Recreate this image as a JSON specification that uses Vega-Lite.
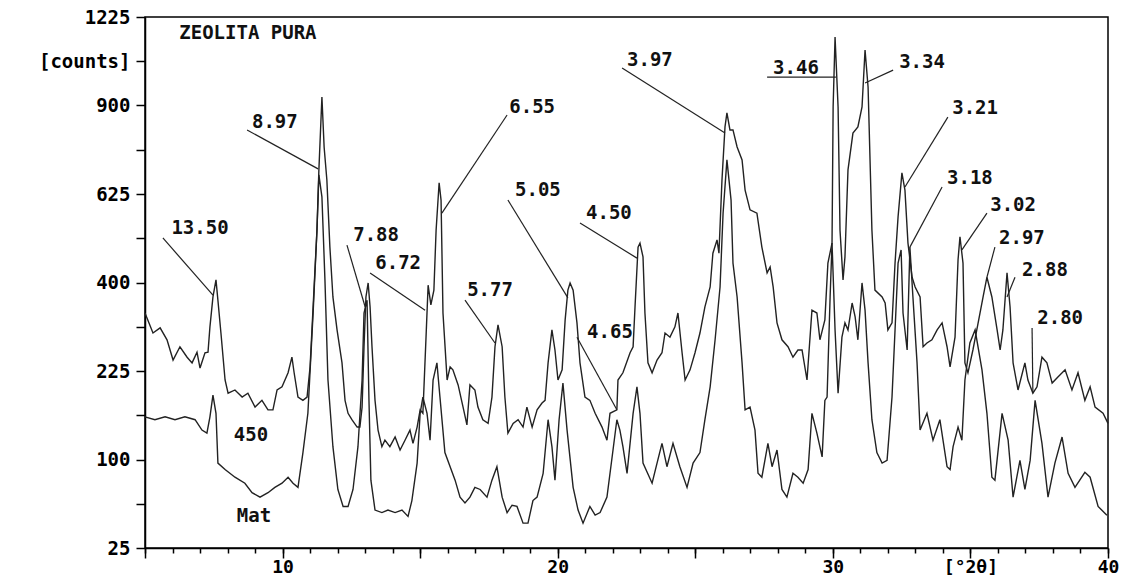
{
  "$schema": "https://vega.github.io/schema/vega-lite/v6.json",
  "width": 963,
  "height": 531,
  "autosize": {"type": "none"},
  "padding": {"left": 145, "top": 17, "right": 17, "bottom": 29},
  "background": "white",
  "config": {
    "view": {"stroke": "black", "strokeWidth": 1.5},
    "axis": {"domainColor": "black", "domainWidth": 1.5, "tickColor": "black", "tickWidth": 1.5, "labelFont": "DejaVu Sans Mono", "labelFontWeight": "bold", "labelFontSize": 19, "labelColor": "black", "grid": false, "labelFlush": false, "labelOverlap": false}
  },
  "datasets": {
    "spec": [
      {"s":"a","t":5.00,"c":334},{"s":"a","t":5.29,"c":294},{"s":"a","t":5.55,"c":304},{"s":"a","t":5.80,"c":281},{"s":"a","t":6.02,"c":244},{"s":"a","t":6.27,"c":268},{"s":"a","t":6.53,"c":249},{"s":"a","t":6.71,"c":239},{"s":"a","t":6.89,"c":258},{"s":"a","t":7.00,"c":230},{"s":"a","t":7.18,"c":257},{"s":"a","t":7.29,"c":258},{"s":"a","t":7.36,"c":306},{"s":"a","t":7.47,"c":368},{"s":"a","t":7.58,"c":406},{"s":"a","t":7.65,"c":361},{"s":"a","t":7.76,"c":294},{"s":"a","t":7.91,"c":210},{"s":"a","t":8.02,"c":189},{"s":"a","t":8.27,"c":194},{"s":"a","t":8.53,"c":183},{"s":"a","t":8.74,"c":189},{"s":"a","t":9.00,"c":168},{"s":"a","t":9.25,"c":178},{"s":"a","t":9.47,"c":164},{"s":"a","t":9.65,"c":164},{"s":"a","t":9.80,"c":194},{"s":"a","t":9.98,"c":199},{"s":"a","t":10.20,"c":222},{"s":"a","t":10.34,"c":249},{"s":"a","t":10.42,"c":222},{"s":"a","t":10.56,"c":183},{"s":"a","t":10.74,"c":178},{"s":"a","t":10.89,"c":183},{"s":"a","t":11.00,"c":232},{"s":"a","t":11.11,"c":347},{"s":"a","t":11.25,"c":527},{"s":"a","t":11.32,"c":695},{"s":"a","t":11.43,"c":929},{"s":"a","t":11.51,"c":765},{"s":"a","t":11.61,"c":665},{"s":"a","t":11.72,"c":484},{"s":"a","t":11.83,"c":368},{"s":"a","t":11.98,"c":300},{"s":"a","t":12.16,"c":239},{"s":"a","t":12.27,"c":178},{"s":"a","t":12.38,"c":159},{"s":"a","t":12.52,"c":150},{"s":"a","t":12.71,"c":140},{"s":"a","t":12.81,"c":140},{"s":"a","t":12.89,"c":168},{"s":"a","t":12.96,"c":268},{"s":"a","t":13.03,"c":368},{"s":"a","t":13.11,"c":399},{"s":"a","t":13.18,"c":347},{"s":"a","t":13.25,"c":268},{"s":"a","t":13.36,"c":178},{"s":"a","t":13.47,"c":136},{"s":"a","t":13.61,"c":115},{"s":"a","t":13.72,"c":123},{"s":"a","t":13.90,"c":115},{"s":"a","t":14.09,"c":127},{"s":"a","t":14.27,"c":111},{"s":"a","t":14.45,"c":123},{"s":"a","t":14.63,"c":136},{"s":"a","t":14.74,"c":119},{"s":"a","t":14.89,"c":140},{"s":"a","t":15.00,"c":164},{"s":"a","t":15.10,"c":159},{"s":"a","t":15.21,"c":281},{"s":"a","t":15.29,"c":394},{"s":"a","t":15.39,"c":351},{"s":"a","t":15.50,"c":383},{"s":"a","t":15.58,"c":527},{"s":"a","t":15.69,"c":657},{"s":"a","t":15.76,"c":608},{"s":"a","t":15.83,"c":334},{"s":"a","t":15.98,"c":210},{"s":"a","t":16.09,"c":232},{"s":"a","t":16.19,"c":227},{"s":"a","t":16.38,"c":202},{"s":"a","t":16.56,"c":168},{"s":"a","t":16.70,"c":143},{"s":"a","t":16.81,"c":202},{"s":"a","t":16.99,"c":194},{"s":"a","t":17.10,"c":168},{"s":"a","t":17.28,"c":150},{"s":"a","t":17.47,"c":145},{"s":"a","t":17.61,"c":183},{"s":"a","t":17.72,"c":268},{"s":"a","t":17.83,"c":310},{"s":"a","t":17.98,"c":268},{"s":"a","t":18.08,"c":183},{"s":"a","t":18.19,"c":132},{"s":"a","t":18.38,"c":145},{"s":"a","t":18.56,"c":150},{"s":"a","t":18.74,"c":140},{"s":"a","t":18.88,"c":168},{"s":"a","t":19.07,"c":140},{"s":"a","t":19.25,"c":164},{"s":"a","t":19.43,"c":174},{"s":"a","t":19.54,"c":178},{"s":"a","t":19.65,"c":239},{"s":"a","t":19.79,"c":300},{"s":"a","t":19.90,"c":262},{"s":"a","t":20.01,"c":210},{"s":"a","t":20.16,"c":227},{"s":"a","t":20.27,"c":320},{"s":"a","t":20.37,"c":383},{"s":"a","t":20.45,"c":399},{"s":"a","t":20.56,"c":383},{"s":"a","t":20.70,"c":314},{"s":"a","t":20.81,"c":239},{"s":"a","t":20.99,"c":183},{"s":"a","t":21.17,"c":178},{"s":"a","t":21.36,"c":159},{"s":"a","t":21.61,"c":140},{"s":"a","t":21.79,"c":123},{"s":"a","t":21.90,"c":159},{"s":"a","t":22.15,"c":164},{"s":"a","t":22.19,"c":210},{"s":"a","t":22.37,"c":222},{"s":"a","t":22.63,"c":257},{"s":"a","t":22.74,"c":268},{"s":"a","t":22.81,"c":347},{"s":"a","t":22.92,"c":484},{"s":"a","t":22.99,"c":494},{"s":"a","t":23.10,"c":460},{"s":"a","t":23.17,"c":334},{"s":"a","t":23.28,"c":239},{"s":"a","t":23.43,"c":222},{"s":"a","t":23.61,"c":244},{"s":"a","t":23.79,"c":257},{"s":"a","t":23.90,"c":294},{"s":"a","t":24.08,"c":286},{"s":"a","t":24.26,"c":306},{"s":"a","t":24.37,"c":334},{"s":"a","t":24.52,"c":257},{"s":"a","t":24.63,"c":210},{"s":"a","t":24.81,"c":227},{"s":"a","t":24.99,"c":257},{"s":"a","t":25.17,"c":294},{"s":"a","t":25.35,"c":347},{"s":"a","t":25.54,"c":390},{"s":"a","t":25.64,"c":469},{"s":"a","t":25.79,"c":502},{"s":"a","t":25.86,"c":469},{"s":"a","t":25.97,"c":665},{"s":"a","t":26.08,"c":829},{"s":"a","t":26.15,"c":875},{"s":"a","t":26.26,"c":819},{"s":"a","t":26.37,"c":819},{"s":"a","t":26.52,"c":765},{"s":"a","t":26.70,"c":725},{"s":"a","t":26.81,"c":636},{"s":"a","t":26.99,"c":581},{"s":"a","t":27.24,"c":572},{"s":"a","t":27.42,"c":484},{"s":"a","t":27.61,"c":422},{"s":"a","t":27.72,"c":436},{"s":"a","t":27.83,"c":390},{"s":"a","t":27.97,"c":314},{"s":"a","t":28.15,"c":281},{"s":"a","t":28.37,"c":268},{"s":"a","t":28.55,"c":249},{"s":"a","t":28.73,"c":262},{"s":"a","t":28.88,"c":262},{"s":"a","t":29.06,"c":210},{"s":"a","t":29.24,"c":340},{"s":"a","t":29.42,"c":334},{"s":"a","t":29.53,"c":281},{"s":"a","t":29.71,"c":320},{"s":"a","t":29.82,"c":445},{"s":"a","t":29.97,"c":494},{"s":"a","t":30.01,"c":895},{"s":"a","t":30.08,"c":1147},{"s":"a","t":30.19,"c":895},{"s":"a","t":30.26,"c":527},{"s":"a","t":30.37,"c":406},{"s":"a","t":30.44,"c":460},{"s":"a","t":30.55,"c":695},{"s":"a","t":30.73,"c":809},{"s":"a","t":30.91,"c":829},{"s":"a","t":31.06,"c":895},{"s":"a","t":31.17,"c":1098},{"s":"a","t":31.28,"c":964},{"s":"a","t":31.42,"c":527},{"s":"a","t":31.53,"c":383},{"s":"a","t":31.79,"c":368},{"s":"a","t":31.90,"c":355},{"s":"a","t":32.00,"c":300},{"s":"a","t":32.15,"c":314},{"s":"a","t":32.26,"c":445},{"s":"a","t":32.37,"c":562},{"s":"a","t":32.51,"c":686},{"s":"a","t":32.62,"c":636},{"s":"a","t":32.73,"c":494},{"s":"a","t":32.88,"c":412},{"s":"a","t":32.99,"c":390},{"s":"a","t":33.17,"c":368},{"s":"a","t":33.28,"c":268},{"s":"a","t":33.42,"c":275},{"s":"a","t":33.60,"c":281},{"s":"a","t":33.79,"c":300},{"s":"a","t":33.97,"c":314},{"s":"a","t":34.15,"c":268},{"s":"a","t":34.26,"c":232},{"s":"a","t":34.44,"c":286},{"s":"a","t":34.55,"c":453},{"s":"a","t":34.62,"c":510},{"s":"a","t":34.73,"c":445},{"s":"a","t":34.80,"c":239},{"s":"a","t":34.91,"c":222},{"s":"a","t":35.09,"c":262},{"s":"a","t":35.28,"c":314},{"s":"a","t":35.46,"c":368},{"s":"a","t":35.60,"c":412},{"s":"a","t":35.78,"c":368},{"s":"a","t":35.97,"c":300},{"s":"a","t":36.08,"c":262},{"s":"a","t":36.18,"c":300},{"s":"a","t":36.33,"c":422},{"s":"a","t":36.44,"c":347},{"s":"a","t":36.55,"c":239},{"s":"a","t":36.73,"c":194},{"s":"a","t":36.98,"c":239},{"s":"a","t":37.09,"c":210},{"s":"a","t":37.27,"c":189},{"s":"a","t":37.42,"c":199},{"s":"a","t":37.60,"c":249},{"s":"a","t":37.78,"c":239},{"s":"a","t":37.97,"c":205},{"s":"a","t":38.18,"c":215},{"s":"a","t":38.44,"c":227},{"s":"a","t":38.69,"c":194},{"s":"a","t":38.91,"c":222},{"s":"a","t":39.16,"c":178},{"s":"a","t":39.35,"c":199},{"s":"a","t":39.53,"c":168},{"s":"a","t":39.82,"c":159},{"s":"a","t":40.00,"c":145},
      {"s":"b","t":5.00,"c":154},{"s":"b","t":5.36,"c":150},{"s":"b","t":5.73,"c":154},{"s":"b","t":6.09,"c":150},{"s":"b","t":6.45,"c":154},{"s":"b","t":6.82,"c":150},{"s":"b","t":7.07,"c":136},{"s":"b","t":7.25,"c":132},{"s":"b","t":7.36,"c":154},{"s":"b","t":7.47,"c":186},{"s":"b","t":7.58,"c":159},{"s":"b","t":7.65,"c":96},{"s":"b","t":7.91,"c":89},{"s":"b","t":8.27,"c":81},{"s":"b","t":8.63,"c":75},{"s":"b","t":8.89,"c":66},{"s":"b","t":9.18,"c":62},{"s":"b","t":9.47,"c":66},{"s":"b","t":9.72,"c":71},{"s":"b","t":9.98,"c":75},{"s":"b","t":10.20,"c":81},{"s":"b","t":10.38,"c":75},{"s":"b","t":10.56,"c":71},{"s":"b","t":10.74,"c":108},{"s":"b","t":10.92,"c":159},{"s":"b","t":11.11,"c":334},{"s":"b","t":11.25,"c":527},{"s":"b","t":11.32,"c":680},{"s":"b","t":11.43,"c":617},{"s":"b","t":11.54,"c":406},{"s":"b","t":11.65,"c":210},{"s":"b","t":11.83,"c":115},{"s":"b","t":12.01,"c":69},{"s":"b","t":12.20,"c":54},{"s":"b","t":12.38,"c":54},{"s":"b","t":12.56,"c":69},{"s":"b","t":12.74,"c":115},{"s":"b","t":12.89,"c":210},{"s":"b","t":12.96,"c":334},{"s":"b","t":13.07,"c":361},{"s":"b","t":13.14,"c":178},{"s":"b","t":13.21,"c":78},{"s":"b","t":13.36,"c":51},{"s":"b","t":13.61,"c":49},{"s":"b","t":13.83,"c":51},{"s":"b","t":14.09,"c":49},{"s":"b","t":14.34,"c":51},{"s":"b","t":14.56,"c":46},{"s":"b","t":14.70,"c":59},{"s":"b","t":14.89,"c":96},{"s":"b","t":15.00,"c":159},{"s":"b","t":15.10,"c":183},{"s":"b","t":15.25,"c":159},{"s":"b","t":15.36,"c":123},{"s":"b","t":15.47,"c":210},{"s":"b","t":15.61,"c":239},{"s":"b","t":15.72,"c":183},{"s":"b","t":15.90,"c":108},{"s":"b","t":16.09,"c":92},{"s":"b","t":16.27,"c":78},{"s":"b","t":16.45,"c":62},{"s":"b","t":16.63,"c":57},{"s":"b","t":16.81,"c":62},{"s":"b","t":16.99,"c":71},{"s":"b","t":17.18,"c":69},{"s":"b","t":17.43,"c":62},{"s":"b","t":17.61,"c":78},{"s":"b","t":17.79,"c":92},{"s":"b","t":17.98,"c":62},{"s":"b","t":18.16,"c":49},{"s":"b","t":18.34,"c":55},{"s":"b","t":18.52,"c":54},{"s":"b","t":18.74,"c":41},{"s":"b","t":18.92,"c":41},{"s":"b","t":19.10,"c":59},{"s":"b","t":19.25,"c":62},{"s":"b","t":19.47,"c":85},{"s":"b","t":19.65,"c":150},{"s":"b","t":19.79,"c":115},{"s":"b","t":19.90,"c":78},{"s":"b","t":20.05,"c":150},{"s":"b","t":20.19,"c":205},{"s":"b","t":20.34,"c":136},{"s":"b","t":20.56,"c":71},{"s":"b","t":20.74,"c":51},{"s":"b","t":20.92,"c":41},{"s":"b","t":21.17,"c":54},{"s":"b","t":21.36,"c":47},{"s":"b","t":21.54,"c":49},{"s":"b","t":21.79,"c":62},{"s":"b","t":22.01,"c":111},{"s":"b","t":22.15,"c":150},{"s":"b","t":22.26,"c":136},{"s":"b","t":22.37,"c":115},{"s":"b","t":22.52,"c":85},{"s":"b","t":22.74,"c":159},{"s":"b","t":22.88,"c":199},{"s":"b","t":22.99,"c":159},{"s":"b","t":23.10,"c":96},{"s":"b","t":23.43,"c":75},{"s":"b","t":23.61,"c":96},{"s":"b","t":23.79,"c":119},{"s":"b","t":23.97,"c":92},{"s":"b","t":24.19,"c":119},{"s":"b","t":24.44,"c":92},{"s":"b","t":24.70,"c":71},{"s":"b","t":24.92,"c":96},{"s":"b","t":25.17,"c":108},{"s":"b","t":25.35,"c":150},{"s":"b","t":25.54,"c":199},{"s":"b","t":25.72,"c":281},{"s":"b","t":25.90,"c":390},{"s":"b","t":26.01,"c":572},{"s":"b","t":26.15,"c":725},{"s":"b","t":26.30,"c":608},{"s":"b","t":26.37,"c":445},{"s":"b","t":26.52,"c":368},{"s":"b","t":26.70,"c":239},{"s":"b","t":26.81,"c":164},{"s":"b","t":26.99,"c":168},{"s":"b","t":27.17,"c":136},{"s":"b","t":27.28,"c":85},{"s":"b","t":27.42,"c":81},{"s":"b","t":27.64,"c":119},{"s":"b","t":27.79,"c":92},{"s":"b","t":27.97,"c":111},{"s":"b","t":28.15,"c":69},{"s":"b","t":28.33,"c":62},{"s":"b","t":28.55,"c":85},{"s":"b","t":28.73,"c":81},{"s":"b","t":28.92,"c":75},{"s":"b","t":29.10,"c":89},{"s":"b","t":29.24,"c":159},{"s":"b","t":29.42,"c":132},{"s":"b","t":29.61,"c":103},{"s":"b","t":29.71,"c":178},{"s":"b","t":29.79,"c":183},{"s":"b","t":29.90,"c":368},{"s":"b","t":29.97,"c":494},{"s":"b","t":30.08,"c":300},{"s":"b","t":30.19,"c":189},{"s":"b","t":30.33,"c":286},{"s":"b","t":30.44,"c":314},{"s":"b","t":30.55,"c":300},{"s":"b","t":30.70,"c":355},{"s":"b","t":30.81,"c":326},{"s":"b","t":30.91,"c":281},{"s":"b","t":31.06,"c":399},{"s":"b","t":31.17,"c":340},{"s":"b","t":31.28,"c":239},{"s":"b","t":31.42,"c":150},{"s":"b","t":31.60,"c":108},{"s":"b","t":31.79,"c":96},{"s":"b","t":31.97,"c":99},{"s":"b","t":32.15,"c":183},{"s":"b","t":32.26,"c":300},{"s":"b","t":32.37,"c":445},{"s":"b","t":32.48,"c":477},{"s":"b","t":32.55,"c":334},{"s":"b","t":32.70,"c":262},{"s":"b","t":32.80,"c":484},{"s":"b","t":32.91,"c":368},{"s":"b","t":33.06,"c":239},{"s":"b","t":33.17,"c":136},{"s":"b","t":33.42,"c":159},{"s":"b","t":33.64,"c":123},{"s":"b","t":33.89,"c":150},{"s":"b","t":34.15,"c":92},{"s":"b","t":34.26,"c":89},{"s":"b","t":34.37,"c":115},{"s":"b","t":34.55,"c":140},{"s":"b","t":34.69,"c":123},{"s":"b","t":34.80,"c":210},{"s":"b","t":34.98,"c":275},{"s":"b","t":35.17,"c":300},{"s":"b","t":35.42,"c":227},{"s":"b","t":35.60,"c":159},{"s":"b","t":35.78,"c":81},{"s":"b","t":35.89,"c":78},{"s":"b","t":36.15,"c":159},{"s":"b","t":36.37,"c":123},{"s":"b","t":36.55,"c":62},{"s":"b","t":36.80,"c":99},{"s":"b","t":36.98,"c":69},{"s":"b","t":37.17,"c":99},{"s":"b","t":37.35,"c":178},{"s":"b","t":37.60,"c":119},{"s":"b","t":37.82,"c":62},{"s":"b","t":38.07,"c":96},{"s":"b","t":38.33,"c":127},{"s":"b","t":38.55,"c":85},{"s":"b","t":38.80,"c":71},{"s":"b","t":39.16,"c":86},{"s":"b","t":39.35,"c":81},{"s":"b","t":39.64,"c":54},{"s":"b","t":39.96,"c":47}
    ],
    "lead": [
      {"x1":5.65,"y1":507,"x2":7.47,"y2":372},
      {"x1":8.71,"y1":819,"x2":11.29,"y2":698},
      {"x1":12.34,"y1":489,"x2":13.00,"y2":347},
      {"x1":13.18,"y1":422,"x2":15.18,"y2":340},
      {"x1":18.16,"y1":868,"x2":15.79,"y2":572},
      {"x1":16.63,"y1":361,"x2":17.72,"y2":275},
      {"x1":18.19,"y1":608,"x2":20.37,"y2":366},
      {"x1":20.81,"y1":546,"x2":22.88,"y2":457},
      {"x1":20.70,"y1":286,"x2":22.15,"y2":164},
      {"x1":22.34,"y1":1032,"x2":26.08,"y2":809},
      {"x1":27.61,"y1":999,"x2":30.11,"y2":999},
      {"x1":32.19,"y1":1024,"x2":31.17,"y2":978},
      {"x1":34.18,"y1":861,"x2":32.62,"y2":645},
      {"x1":33.97,"y1":645,"x2":32.80,"y2":484},
      {"x1":35.60,"y1":572,"x2":34.69,"y2":477},
      {"x1":35.89,"y1":484,"x2":35.60,"y2":412},
      {"x1":36.62,"y1":412,"x2":36.33,"y2":368},
      {"x1":37.24,"y1":304,"x2":37.27,"y2":189}
    ],
    "ann": [
      {"label":"ZEOLITA PURA","tx":8.74,"ty":1163},
      {"label":"13.50","tx":7.00,"ty":533},
      {"label":"8.97","tx":9.72,"ty":845},
      {"label":"7.88","tx":13.40,"ty":514},
      {"label":"6.72","tx":14.20,"ty":445},
      {"label":"6.55","tx":19.07,"ty":895},
      {"label":"5.77","tx":17.54,"ty":383},
      {"label":"5.05","tx":19.28,"ty":636},
      {"label":"4.50","tx":21.86,"ty":572},
      {"label":"4.65","tx":21.90,"ty":296},
      {"label":"3.97","tx":23.35,"ty":1061},
      {"label":"3.46","tx":28.66,"ty":1032},
      {"label":"3.34","tx":33.24,"ty":1054},
      {"label":"3.21","tx":35.17,"ty":891},
      {"label":"3.18","tx":34.98,"ty":671},
      {"label":"3.02","tx":36.55,"ty":594},
      {"label":"2.97","tx":36.87,"ty":507},
      {"label":"2.88","tx":37.71,"ty":429},
      {"label":"2.80","tx":38.26,"ty":324},
      {"label":"450","tx":8.85,"ty":130},
      {"label":"Mat","tx":8.96,"ty":46}
    ]
  },
  "layer": [
    {
      "data": {"name": "spec"},
      "mark": {"type": "line", "color": "#222222", "strokeWidth": 1.4},
      "encoding": {
        "x": {"field": "t", "type": "quantitative", "scale": {"domain": [5, 40], "nice": false, "zero": false},
              "axis": {"orient": "bottom", "title": null, "values": [5,10,15,20,25,30,35,40], "tickSize": 10, "labelPadding": 14, "labelBaseline": "alphabetic", "labelFontSize": 18,
                       "labelExpr": "datum.value == 35 ? '[°2θ]' : (datum.value % 10 == 0 ? datum.label : '')"}},
        "y": {"field": "c", "type": "quantitative", "scale": {"type": "sqrt", "domain": [25, 1225], "nice": false, "zero": false},
              "axis": {"orient": "left", "title": null, "values": [25,56.25,100,156.25,225,306.25,400,506.25,625,756.25,900,1056.25,1225], "format": "d", "tickSize": 9, "labelPadding": 6,
                       "labelExpr": "datum.value == 1056.25 ? '[counts]' : (sqrt(datum.value) % 5 == 0 ? datum.label : '')"}},
        "detail": {"field": "s"}
      }
    },
    {
      "data": {"name": "lead"},
      "mark": {"type": "rule", "color": "#222222", "strokeWidth": 1.2},
      "encoding": {
        "x": {"field": "x1", "type": "quantitative",
              "axis": {"orient": "bottom", "title": null, "values": [5,6,7,8,9,10,11,12,13,14,15,16,17,18,19,20,21,22,23,24,25,26,27,28,29,30,31,32,33,34,35,36,37,38,39,40], "tickSize": 5, "labels": false, "domain": false}},
        "x2": {"field": "x2"},
        "y": {"field": "y1", "type": "quantitative", "axis": null},
        "y2": {"field": "y2"}
      }
    },
    {
      "data": {"name": "ann"},
      "mark": {"type": "text", "font": "DejaVu Sans Mono", "fontWeight": "bold", "fontSize": 19, "align": "center", "baseline": "middle", "color": "#111111"},
      "encoding": {
        "x": {"field": "tx", "type": "quantitative", "axis": null},
        "y": {"field": "ty", "type": "quantitative", "axis": null},
        "text": {"field": "label"}
      }
    }
  ],
  "resolve": {"axis": {"x": "independent", "y": "independent"}}
}
